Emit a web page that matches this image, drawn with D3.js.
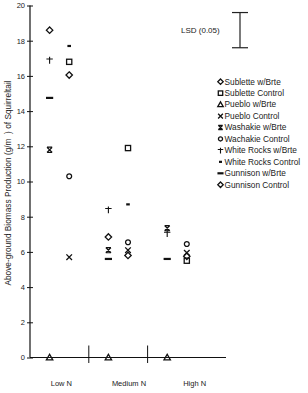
<!DOCTYPE html>
<html><head><meta charset="utf-8">
<script src="https://cdn.jsdelivr.net/npm/d3@7"></script>
<style>html,body{margin:0;padding:0;background:#fff;}svg{display:block;}</style>
</head><body>
<script>
// ---- data ----
const categories = ["Low N", "Medium N", "High N"];
const seriesNames = ["Sublette w/Brte","Sublette Control","Pueblo w/Brte","Pueblo Control","Washakie w/Brte","Wachakie Control","White Rocks w/Brte","White Rocks Control","Gunnison w/Brte","Gunnison Control"];
const seriesSymbols = ["diamond","square","triangle","x","xbar","circle","dagger","shortdash","longdash","diamond"];
const seriesIsControl = [false,true,false,true,false,true,false,true,false,true];
// values per series: [Low N, Medium N, High N]
const subletteBrte = [18.6, 6.85, null];
const subletteControl = [16.8, 11.9, 5.5];
const puebloBrte = [0, 0, 0];
const puebloControl = [5.7, 6.1, 5.95];
const washakieBrte = [11.8, 6.1, 7.35];
const wachakieControl = [10.3, 6.55, 6.45];
const whiteRocksBrte = [16.9, 8.4, 7.05];
const whiteRocksControl = [17.7, 8.7, null];
const gunnisonBrte = [14.75, 5.6, 5.6];
const gunnisonControl = [16.05, 5.8, 5.75];
const seriesValues = [subletteBrte, subletteControl, puebloBrte, puebloControl, washakieBrte, wachakieControl, whiteRocksBrte, whiteRocksControl, gunnisonBrte, gunnisonControl];
const yTicks = [0,2,4,6,8,10,12,14,16,18,20];
const lsdLabel = "LSD (0.05)";
const lsdTop = 19.6, lsdValue = 2.0;
const yTitle = "Above-ground Biomass Production (g/m\u00A0\u00A0) of Squirreltail";

// ---- layout ----
const W = 308, H = 393;
const svg = d3.select("body").append("svg").attr("width", W).attr("height", H);
const font = "Liberation Sans, Arial, Helvetica, sans-serif";

const y = d3.scaleLinear().domain([0, 20]).range([357.5, 5.5]);
const x = d3.scaleLinear().domain([0, 10]).range([30, 226]);
const colPos = (ci, isCtrl) => x(ci * 3 + (isCtrl ? 2 : 1));

function drawSymbol(g, type, cx, cy, scale) {
  const s = scale || 1;
  const grp = g.append("g").attr("transform", `translate(${cx},${cy})`)
    .attr("fill", "none").attr("stroke", "#111").attr("stroke-width", 1.3);
  if (type === "diamond") {
    const r = 3.2 * s;
    grp.append("path").attr("d", `M0,${-r}L${r},0L0,${r}L${-r},0Z`);
  } else if (type === "square") {
    const r = 2.6 * s;
    grp.append("rect").attr("x", -r).attr("y", -r).attr("width", 2*r).attr("height", 2*r);
  } else if (type === "triangle") {
    const r = 3.2 * s;
    grp.append("path").attr("d", `M0,${-r}L${r},${r*0.75}L${-r},${r*0.75}Z`);
  } else if (type === "x") {
    const r = 2.8 * s;
    grp.append("path").attr("d", `M${-r},${-r}L${r},${r}M${r},${-r}L${-r},${r}`);
  } else if (type === "xbar") {
    const r = 2.6 * s;
    grp.append("path").attr("d", `M${-r},${-r}L${r},${r}M${r},${-r}L${-r},${r}M${-r},${-r}L${r},${-r}M${-r},${r}L${r},${r}`).attr("stroke-width", 1.2);
  } else if (type === "circle") {
    grp.append("circle").attr("r", 2.4 * s);
  } else if (type === "dagger") {
    const r = 3.2 * s;
    grp.append("path").attr("d", `M0,${-r}L0,${r+0.5}M${-r},${-r*0.35}L${r},${-r*0.35}`).attr("stroke-width", 1.1);
  } else if (type === "shortdash") {
    grp.append("path").attr("d", `M${-1.8*s},0L${1.8*s},0`).attr("stroke-width", 2.2);
  } else if (type === "longdash") {
    grp.append("path").attr("d", `M${-3.6*s},0L${3.6*s},0`).attr("stroke-width", 2.2);
  }
}

// axes
const yAxis = d3.axisLeft(y).tickValues(yTicks).tickSize(3).tickPadding(2).tickFormat(d3.format("d"));
const ya = svg.append("g").attr("transform", "translate(30,0)").call(yAxis);
ya.select(".domain").attr("d", `M0,${y(0)}V${y(20)}`).attr("stroke", "#111").attr("stroke-width", 1.2);
ya.selectAll(".tick line").attr("x1", -3).attr("x2", 3).attr("stroke", "#111");
ya.selectAll(".tick text").attr("font-family", font).attr("font-size", 7.5).attr("fill", "#222").attr("x", -5);

svg.append("line").attr("x1", x(0)).attr("x2", x(10)).attr("y1", y(0)).attr("y2", y(0)).attr("stroke", "#111").attr("stroke-width", 1.2);
[3, 6].forEach(d => {
  svg.append("line").attr("x1", x(d)).attr("x2", x(d)).attr("y1", y(0) - 12).attr("y2", y(0) + 5.5).attr("stroke", "#111").attr("stroke-width", 1);
});
const catLabelPos = [1.6, 5.05, 8.4];
categories.forEach((c, i) => {
  svg.append("text").attr("x", x(catLabelPos[i])).attr("y", 386).attr("text-anchor", "middle")
    .attr("font-family", font).attr("font-size", 7.5).attr("fill", "#222").text(c);
});

svg.append("text").attr("transform", `translate(10.5,${183}) rotate(-90)`).attr("text-anchor", "middle")
  .attr("font-family", font).attr("font-size", 8.3).attr("fill", "#222").text(yTitle);

seriesValues.forEach((vals, si) => {
  vals.forEach((v, ci) => {
    if (v === null) return;
    drawSymbol(svg, seriesSymbols[si], colPos(ci, seriesIsControl[si]), y(v));
  });
});

const lx = 240;
const lsd = svg.append("g").attr("stroke", "#222").attr("stroke-width", 1.2);
lsd.append("line").attr("x1", lx).attr("x2", lx).attr("y1", y(lsdTop)).attr("y2", y(lsdTop - lsdValue));
lsd.append("line").attr("x1", lx - 8).attr("x2", lx + 8).attr("y1", y(lsdTop)).attr("y2", y(lsdTop));
lsd.append("line").attr("x1", lx - 8).attr("x2", lx + 8).attr("y1", y(lsdTop - lsdValue)).attr("y2", y(lsdTop - lsdValue));
svg.append("text").attr("x", 181).attr("y", 33).attr("font-family", font).attr("font-size", 8).attr("fill", "#222").text(lsdLabel);

const lg = svg.append("g");
seriesNames.forEach((n, i) => {
  const ly = 81.7 + i * 11.45;
  drawSymbol(lg, seriesSymbols[i], 220.5, ly, 0.85);
  lg.append("text").attr("x", 224.5).attr("y", ly + 2.8).attr("font-family", font).attr("font-size", 8.3).attr("fill", "#222").text(n);
});
</script>
</body></html>
